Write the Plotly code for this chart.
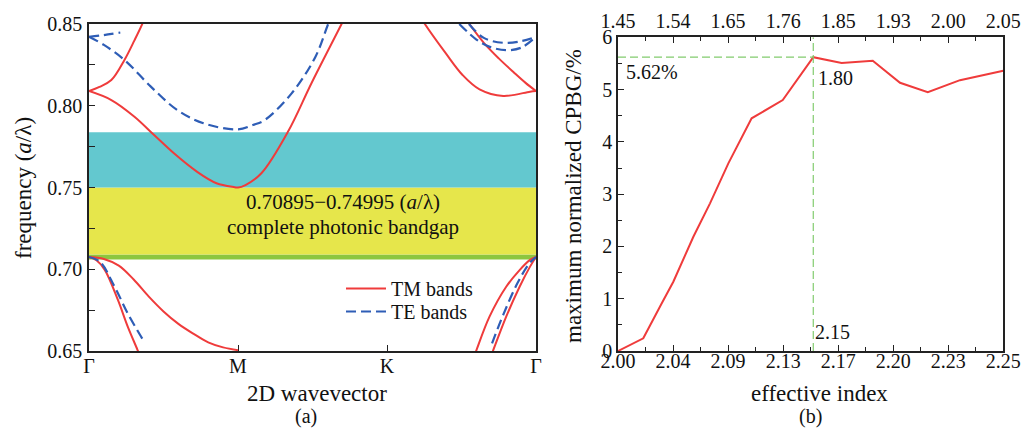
import numpy as np
import plotly.graph_objects as go

# ---------------- data: panel (a) band structure ----------------
k_ticks = [0, 1, 2, 3]
k_labels = ["Γ", "M", "K", "Γ"]

# TM bands (red, solid)
tm1_k = [0, 0.05, 0.106, 0.194, 0.26, 0.326, 0.36]
tm1_f = [0.7075, 0.7055, 0.6996, 0.6812, 0.6649, 0.6506, 0.643]
tm2_k = [0, 0.1, 0.2, 0.3, 0.4, 0.5, 0.6, 0.7, 0.8, 0.9, 1.0]
tm2_f = [0.7075, 0.7063, 0.7022, 0.6937, 0.6834, 0.6742, 0.6666, 0.6606, 0.6553, 0.6522, 0.6505]
tm3_k = [2.58, 2.598, 2.688, 2.8, 2.89, 2.96, 3.0]
tm3_f = [0.6458, 0.65, 0.671, 0.6893, 0.6995, 0.7057, 0.7075]
tm4_k = [2.70, 2.711, 2.8, 2.89, 2.96, 3.0]
tm4_f = [0.6474, 0.65, 0.671, 0.6893, 0.7016, 0.7075]
tm5_k = [0, 0.07, 0.15, 0.238, 0.305, 0.36, 0.42]
tm5_f = [0.809, 0.8115, 0.8157, 0.828, 0.840, 0.8505, 0.864]
tm6_k = [0, 0.15, 0.305, 0.437, 0.57, 0.724, 0.856, 0.978, 1.0, 1.05, 1.157, 1.336, 1.493, 1.695, 1.75]
tm6_f = [0.809, 0.8035, 0.7933, 0.7821, 0.7709, 0.7597, 0.7526, 0.7502, 0.74995, 0.7515, 0.7587, 0.7842, 0.8138, 0.85, 0.86]
tm7_k = [2.2, 2.254, 2.395, 2.507, 2.621, 2.78, 2.96, 3.0]
tm7_f = [0.858, 0.85, 0.832, 0.8188, 0.810, 0.806, 0.8086, 0.809]
tm8_k = [2.5, 2.553, 2.65, 2.75, 2.85, 2.93, 3.0]
tm8_f = [0.857, 0.85, 0.8385, 0.829, 0.8205, 0.8140, 0.809]

# TE bands (blue, dashed)
te1_k = [0, 0.073, 0.172, 0.26, 0.366]
te1_f = [0.7075, 0.7046, 0.6893, 0.673, 0.6563]
te2_k = [2.705, 2.784, 2.875, 2.955, 3.0]
te2_f = [0.6547, 0.673, 0.6914, 0.7036, 0.7075]
te3_k = [0, 0.1, 0.238, 0.415, 0.592, 0.768, 1.0, 1.1, 1.18, 1.36, 1.52, 1.605, 1.65]
te3_f = [0.8422, 0.8372, 0.828, 0.8117, 0.7974, 0.7893, 0.7855, 0.7882, 0.7913, 0.8076, 0.830, 0.85, 0.86]
te4_k = [0, 0.099, 0.21]
te4_f = [0.8422, 0.8432, 0.8448]
te5_k = [2.55, 2.65, 2.78, 2.9, 3.0]
te5_f = [0.85, 0.8415, 0.8385, 0.8395, 0.8422]
te6_k = [2.485, 2.6, 2.69, 2.8, 2.9, 3.0]
te6_f = [0.85, 0.8405, 0.836, 0.834, 0.8355, 0.8422]

# band gaps (lower, upper)
gap_green = [0.7060, 0.70895]
gap_yellow = [0.70895, 0.74995]
gap_cyan = [0.74995, 0.7838]

# ---------------- data: panel (b) ----------------
neff_ticks = list(np.linspace(2.0, 2.25, 8))
neff_labels = ["2.00", "2.04", "2.09", "2.13", "2.17", "2.20", "2.23", "2.25"]
top_labels = ["1.45", "1.54", "1.65", "1.76", "1.85", "1.93", "2.00", "2.05"]
cpbg_x = [2.000, 2.0164, 2.0284, 2.0359, 2.0489, 2.0597, 2.0716, 2.0867, 2.1069,
          2.1267, 2.1451, 2.1653, 2.183, 2.201, 2.2219, 2.25]
cpbg_y = [0, 0.243, 0.912, 1.325, 2.185, 2.824, 3.589, 4.45, 4.80,
          5.62, 5.51, 5.55, 5.13, 4.95, 5.18, 5.36]

RED = "#EF3B3B"
BLUE = "#2E5DB6"
GREEN = "#82CB6E"
FONT = "Liberation Serif"

# the page adds an 8px body margin; the figure is sized to fill the rest
OFF = 8
W, H = 1029 - OFF, 429 - OFF


def X(px):
    return (px - OFF) / W


def Y(py):
    return 1 - (py - OFF) / H


fig = go.Figure()

tm_sets = [(tm1_k, tm1_f), (tm2_k, tm2_f), (tm3_k, tm3_f), (tm4_k, tm4_f),
           (tm5_k, tm5_f), (tm6_k, tm6_f), (tm7_k, tm7_f), (tm8_k, tm8_f)]
te_sets = [(te1_k, te1_f), (te2_k, te2_f), (te3_k, te3_f), (te4_k, te4_f),
           (te5_k, te5_f), (te6_k, te6_f)]

for i, (kk, ff) in enumerate(tm_sets):
    fig.add_trace(go.Scatter(x=kk, y=ff, mode="lines", xaxis="x", yaxis="y",
                             line=dict(color=RED, width=2, shape="spline", smoothing=1.0),
                             name="TM bands", legend="legend", showlegend=(i == 0),
                             hoverinfo="skip"))
for i, (kk, ff) in enumerate(te_sets):
    fig.add_trace(go.Scatter(x=kk, y=ff, mode="lines", xaxis="x", yaxis="y",
                             line=dict(color=BLUE, width=2.2, dash="10px,5px", shape="spline", smoothing=1.0),
                             name="TE bands", legend="legend2", showlegend=(i == 0),
                             hoverinfo="skip"))

# panel (b) curve
fig.add_trace(go.Scatter(x=cpbg_x, y=cpbg_y, mode="lines", xaxis="x2", yaxis="y2",
                         line=dict(color=RED, width=2), showlegend=False, hoverinfo="skip"))
ipk = int(np.argmax(cpbg_y))
px, py = cpbg_x[ipk], cpbg_y[ipk]
fig.add_trace(go.Scatter(x=[px, px], y=[0, 6], mode="lines", xaxis="x2", yaxis="y2",
                         line=dict(color=GREEN, width=1.2, dash="8px,4px"), showlegend=False))
fig.add_trace(go.Scatter(x=[2.0, px], y=[py, py], mode="lines", xaxis="x2", yaxis="y2",
                         line=dict(color=GREEN, width=1.2, dash="8px,4px"), showlegend=False))
# invisible trace for top axis
fig.add_trace(go.Scatter(x=[2.0, 2.25], y=[0, 0], mode="lines", xaxis="x3", yaxis="y2",
                         line=dict(width=0), opacity=0, showlegend=False, hoverinfo="skip"))

# band-gap rectangles
for (lo, hi), col in [(gap_green, "#8CC63F"), (gap_yellow, "#E6E64B"), (gap_cyan, "#63C8CF")]:
    fig.add_shape(type="rect", xref="x", yref="y", x0=0, x1=3, y0=lo, y1=hi,
                  fillcolor=col, line=dict(width=0), layer="below")

axis_common = dict(showline=True, linecolor="#222", linewidth=1.5, mirror=True,
                   showgrid=False, zeroline=False, ticks="inside", ticklen=6,
                   tickcolor="#222", tickwidth=1.3, automargin=False,
                   tickfont=dict(family=FONT, size=20, color="#111"))

ydom_a = [Y(351), Y(24)]
ydom_b = [Y(351), Y(37.3)]
minor_x = list(np.linspace(2.0, 2.25, 15))

leg_common = dict(xanchor="left", yanchor="top", bgcolor="rgba(0,0,0,0)",
                  font=dict(family=FONT, size=20, color="#111"), itemwidth=40)

fig.update_layout(
    width=W, height=H, margin=dict(l=0, r=0, t=0, b=0, autoexpand=False),
    paper_bgcolor="white", plot_bgcolor="white",
    font=dict(family=FONT, size=20, color="#111"),
    xaxis=dict(axis_common, domain=[X(89), X(536)], range=[0, 3],
               tickvals=k_ticks, ticktext=k_labels, anchor="y", ticklabelstandoff=-4),
    yaxis=dict(axis_common, domain=ydom_a, range=[0.65, 0.85], dtick=0.05, tick0=0.65,
               tickformat=".2f", anchor="x", ticklabelstandoff=1,
               minor=dict(ticks="inside", dtick=0.025, tick0=0.65, ticklen=6, tickcolor="#222")),
    xaxis2=dict(axis_common, domain=[X(618), X(1003.3)], range=[2.0, 2.25],
                tickvals=neff_ticks, ticktext=neff_labels, anchor="y2", ticklabelstandoff=-9,
                minor=dict(ticks="inside", tickvals=minor_x, ticklen=4, tickcolor="#222")),
    xaxis3=dict(axis_common, domain=[X(618), X(1003.3)], range=[2.0, 2.25],
                tickvals=neff_ticks, ticktext=top_labels, anchor="y2", overlaying="x2",
                side="top", mirror=False, ticklabelstandoff=0,
                minor=dict(ticks="inside", tickvals=minor_x, ticklen=4, tickcolor="#222")),
    yaxis2=dict(axis_common, domain=ydom_b, range=[0, 6], dtick=1, tick0=0, anchor="x2",
                ticklabelstandoff=0,
                minor=dict(ticks="inside", dtick=0.5, tick0=0, ticklen=4, tickcolor="#222")),
    legend=dict(leg_common, x=X(341), y=Y(269)),
    legend2=dict(leg_common, x=X(341), y=Y(292)),
)


def ann(text, x, y, size=23, angle=0, xanchor="center", yanchor="middle"):
    fig.add_annotation(text=text, x=X(x), y=Y(y), xref="paper", yref="paper",
                       showarrow=False, textangle=angle, xanchor=xanchor, yanchor=yanchor,
                       font=dict(family=FONT, size=size, color="#111"))


ann("frequency (<i>a</i>/λ)", 23, 188, angle=-90)
ann("2D wavevector", 317, 393)
ann("(a)", 306, 416, size=20)
ann("0.70895−0.74995 (<i>a</i>/λ)", 343, 202, size=21)
ann("complete photonic bandgap", 343, 227, size=21)
ann("maximum normalized CPBG/%", 574, 196, angle=-90)
ann("effective index", 819, 393)
ann("(b)", 810, 416, size=20)
ann("5.62%", 624, 72, size=20, xanchor="left")
ann("1.80", 816, 78, size=20, xanchor="left")
ann("2.15", 813, 332, size=20, xanchor="left")

fig.write_html("out.html")
